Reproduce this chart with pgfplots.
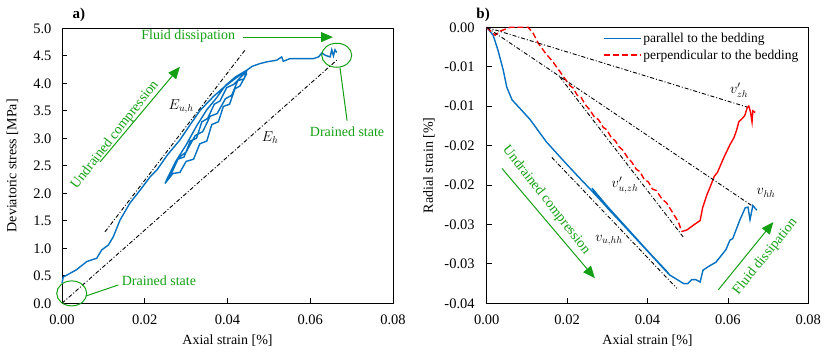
\documentclass[border=0pt]{standalone}
\usepackage{fontspec}
\setmainfont{Liberation Serif}
\usepackage{pgfplots}
\pgfplotsset{compat=1.18}
\usetikzlibrary{arrows.meta}

\definecolor{exblue}{RGB}{0,112,192}
\definecolor{exred}{RGB}{255,0,0}
\definecolor{exgreen}{RGB}{20,160,20}

\tikzset{
  ddot/.style={black, line width=0.9bp, dash pattern=on 4bp off 2bp on 1bp off 2bp},
  garrow/.style={exgreen, line width=1bp, -{Triangle[length=12bp,width=10bp]}},
}
\pgfplotsset{
  panel/.style={
    scale only axis,
    clip=false,
    font=\fontsize{14bp}{16bp}\selectfont,
    tick label style={font=\fontsize{14.5bp}{16bp}\selectfont},
    /pgf/number format/assume math mode=true,
    tick align=inside,
    xtick pos=bottom, ytick pos=left,
    major tick length=5bp,
    axis line style={black, line width=0.8bp},
    every tick/.style={black, line width=0.8bp},
    xmin=0, xmax=0.08,
    xtick={0,0.02,0.04,0.06,0.08},
    scaled x ticks=false, scaled y ticks=false,
    xticklabel style={/pgf/number format/fixed, /pgf/number format/fixed zerofill,
      /pgf/number format/precision=2, yshift=-8bp},
    xlabel={Axial strain [\%]},
    xlabel style={at={(rel axis cs:0.5,0)}, anchor=center, yshift=-37.7bp},
  },
}

\begin{document}
\begin{tikzpicture}
\path[use as bounding box] (0,0) rectangle (830bp,353bp);

% ---------- a) ----------
\begin{axis}[panel,
  at={(62bp,49.7bp)}, anchor=south west,
  width=331bp, height=275bp,
  ymin=0, ymax=5,
  ytick={0,0.5,1,1.5,2,2.5,3,3.5,4,4.5,5},
  yticklabel style={/pgf/number format/fixed, /pgf/number format/fixed zerofill,
    /pgf/number format/precision=1, xshift=-7bp},
  ylabel={Deviatoric stress [MPa]},
  ylabel style={at={(rel axis cs:-0.1495,0.5)}, anchor=center},
]
\addplot[ddot] coordinates {(0,0) (0.0667,4.44)};
\addplot[ddot] coordinates {(0.0104,1.30) (0.0443,4.61)};

\addplot[exblue, line width=1.4bp] coordinates {
(0.0000,0.36) (0.0003,0.48) (0.0011,0.51) (0.0035,0.61) (0.0060,0.76)
(0.0084,0.82) (0.0096,0.97) (0.0112,1.06) (0.0124,1.21) (0.0140,1.51)
(0.0164,1.82) (0.0189,2.06) (0.0213,2.30) (0.0229,2.42) (0.0255,2.70)
(0.0285,2.97) (0.0310,3.25) (0.0334,3.51) (0.0366,3.76) (0.0390,3.92)
(0.0414,4.06) (0.0440,4.20)
(0.0446,4.17) (0.0430,3.95) (0.0418,3.90) (0.0405,3.62) (0.0390,3.58)
(0.0378,3.30) (0.0362,3.25) (0.0350,2.95) (0.0333,2.90) (0.0318,2.62)
(0.0300,2.58) (0.0285,2.38) (0.0268,2.36) (0.0249,2.18)
(0.0265,2.40) (0.0280,2.62) (0.0295,2.66) (0.0310,2.95) (0.0325,3.00)
(0.0338,3.30) (0.0352,3.36) (0.0368,3.62) (0.0382,3.68) (0.0398,3.92)
(0.0415,3.98) (0.0446,4.22)
(0.0440,4.08) (0.0425,4.05) (0.0410,3.78) (0.0395,3.72) (0.0375,3.45)
(0.0358,3.40) (0.0340,3.12) (0.0322,3.05) (0.0300,2.75) (0.0282,2.65)
(0.0262,2.32) (0.0255,2.28)
(0.0275,2.58) (0.0300,2.88) (0.0325,3.22) (0.0350,3.52) (0.0372,3.72)
(0.0395,3.96) (0.0420,4.12) (0.0447,4.24)
(0.0460,4.31) (0.0479,4.36) (0.0495,4.39) (0.0519,4.42) (0.0531,4.48)
(0.0535,4.40) (0.0551,4.45) (0.0576,4.45) (0.0608,4.45) (0.0620,4.48)
(0.0628,4.55) (0.0636,4.51) (0.0648,4.48) (0.0652,4.61) (0.0656,4.50)
(0.0660,4.61) (0.0664,4.56)
};

\node[font=\fontsize{15bp}{16bp}\selectfont\bfseries] at (axis cs:0.0041,5.24) {a)};
\node[exgreen] at (axis cs:0.0305,4.86) {Fluid dissipation};
\draw[garrow] (axis cs:0.0438,4.84) -- (axis cs:0.0655,4.84);
\draw[exgreen, line width=1bp] (axis cs:0.0664,4.51) ellipse [x radius=15bp, y radius=12bp];
\draw[exgreen, line width=1bp] (axis cs:0.0672,4.28) -- (axis cs:0.0689,3.32);
\node[exgreen] at (axis cs:0.0689,3.12) {Drained state};
\draw[exgreen, line width=1bp] (axis cs:0.00235,0.18) ellipse [x radius=15bp, y radius=12.5bp];
\draw[exgreen, line width=1bp] (axis cs:0.0058,0.133) -- (axis cs:0.0136,0.333);
\node[exgreen, anchor=west] at (axis cs:0.0136,0.41) {Drained state};
\node[exgreen, rotate=52] at (axis cs:0.0128,3.06) {Undrained compression};
\draw[garrow] (axis cs:0.0092,2.57) -- (axis cs:0.0285,4.30);
\node at (axis cs:0.0288,3.57) {$E_{u,h}$};
\node at (axis cs:0.0503,3.02) {$E_{h}$};
\end{axis}

% ---------- b) ----------
\begin{axis}[panel,
  at={(486.7bp,49.7bp)}, anchor=south west,
  width=321.6bp, height=276bp,
  ymin=-0.035, ymax=0,
  ytick={-0.035,-0.03,-0.025,-0.02,-0.015,-0.01,-0.005,0},
  yticklabels={-0.04,-0.03,-0.03,-0.02,-0.02,-0.01,-0.01,0.00},
  yticklabel style={xshift=-8.5bp},
  ylabel={Radial strain [\%]},
  ylabel style={at={(rel axis cs:-0.1794,0.5)}, anchor=center},
  legend style={draw=none, fill=none, at={(rel axis cs:0.352,0.995)}, anchor=north west,
    font=\fontsize{13.5bp}{15bp}\selectfont, row sep=2bp},
  legend cell align=left,
  legend image code/.code={\draw[#1] (0bp,0bp) -- (37bp,0bp);},
]
\addplot[exblue, line width=1.4bp] coordinates {
(0,0) (0.0016,-0.0010) (0.0028,-0.0029) (0.0041,-0.0054) (0.0050,-0.0076)
(0.0063,-0.0092) (0.0083,-0.0103) (0.0108,-0.0117) (0.0148,-0.0145)
(0.0187,-0.0167) (0.0227,-0.0189) (0.0257,-0.0205)
(0.0451,-0.0312) (0.0300,-0.0227) (0.0262,-0.0204) (0.0300,-0.0229)
(0.0449,-0.0310) (0.0455,-0.0314)
(0.0474,-0.0320) (0.0490,-0.0325) (0.0500,-0.0325) (0.0510,-0.0320)
(0.0520,-0.0320) (0.0531,-0.0323) (0.0538,-0.0308) (0.0556,-0.0302)
(0.0570,-0.0298) (0.0581,-0.0291) (0.0595,-0.0282) (0.0605,-0.0270)
(0.0612,-0.0268) (0.0618,-0.0260) (0.0630,-0.0244) (0.0643,-0.0229)
(0.0650,-0.0228) (0.0655,-0.0244) (0.0662,-0.0226) (0.0672,-0.0232)
};
\addlegendentry{parallel to the bedding}
\addplot[exred, line width=1.4bp, dash pattern=on 6bp off 3bp] coordinates {
(0,0) (0.0010,-0.0005) (0.0021,-0.0010) (0.0033,-0.0005) (0.0058,0)
(0.0103,0) (0.0115,-0.0007) (0.0128,-0.0020) (0.0145,-0.0032)
(0.0165,-0.0044) (0.0207,-0.0074)
(0.0215,-0.0077) (0.0225,-0.0086) (0.0235,-0.0089) (0.0245,-0.0098)
(0.0257,-0.0105) (0.0268,-0.0114) (0.0278,-0.0117) (0.0290,-0.0127)
(0.0299,-0.0130) (0.0310,-0.0140) (0.0320,-0.0144) (0.0330,-0.0152)
(0.0339,-0.0156) (0.0350,-0.0165) (0.0361,-0.0171) (0.0372,-0.0180)
(0.0381,-0.0183) (0.0392,-0.0193) (0.0402,-0.0196) (0.0412,-0.0205)
(0.0422,-0.0207) (0.0435,-0.0217) (0.0448,-0.0223)
(0.0460,-0.0233) (0.0477,-0.0247) (0.0485,-0.0259)
};
\addlegendentry{perpendicular to the bedding}
\addplot[exred, line width=1.4bp, forget plot] coordinates {
(0.0485,-0.0259) (0.0498,-0.0257) (0.0514,-0.0251) (0.0531,-0.0245)
(0.0537,-0.0229) (0.0548,-0.0212) (0.0557,-0.0201) (0.0566,-0.0189)
(0.0574,-0.0184) (0.0590,-0.0165) (0.0605,-0.0149) (0.0615,-0.0140)
(0.0622,-0.0130) (0.0627,-0.0120) (0.0635,-0.0116) (0.0642,-0.0112)
(0.0648,-0.0102) (0.0652,-0.0100) (0.0656,-0.0107) (0.0660,-0.0120)
(0.0662,-0.0106) (0.0668,-0.0108)
};
\addplot[ddot, forget plot] coordinates {(0,0) (0.0647,-0.0101)};
\addplot[ddot, forget plot] coordinates {(0,0) (0.0659,-0.0226)};
\addplot[ddot, forget plot] coordinates {(0.0182,-0.0063) (0.0489,-0.0266)};
\addplot[ddot, forget plot] coordinates {(0.0162,-0.0165) (0.0473,-0.0331)};

\node[font=\fontsize{15bp}{16bp}\selectfont\bfseries] at (axis cs:-0.0009,0.0016) {b)};
\node at (axis cs:0.0628,-0.0080) {$v'_{zh}$};
\node at (axis cs:0.0695,-0.0210) {$v_{hh}$};
\node at (axis cs:0.0344,-0.0200) {$v'_{u,zh}$};
\node at (axis cs:0.0304,-0.0270) {$v_{u,hh}$};
\node[exgreen, rotate=-52] at (axis cs:0.0148,-0.0219) {Undrained compression};
\draw[garrow] (axis cs:0.0038,-0.0179) -- (axis cs:0.0269,-0.0318);
\node[exgreen, rotate=51] at (axis cs:0.0693,-0.0291) {Fluid dissipation};
\draw[garrow] (axis cs:0.0576,-0.0333) -- (axis cs:0.0713,-0.0247);
\end{axis}
\end{tikzpicture}
\end{document}
